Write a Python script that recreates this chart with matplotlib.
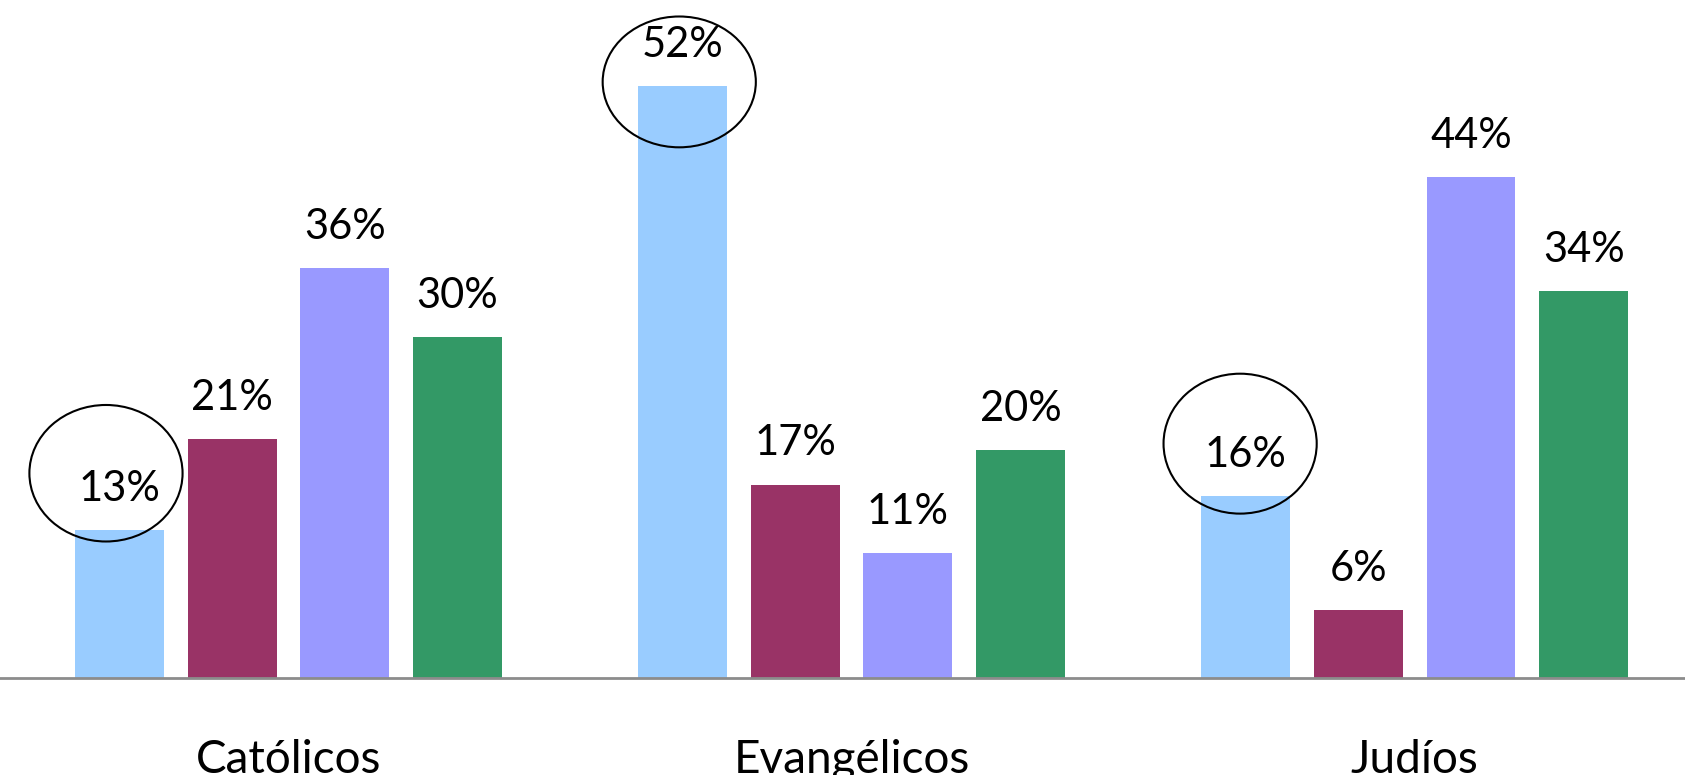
import matplotlib.pyplot as plt
from matplotlib.patches import Ellipse

categories = ["Católicos", "Evangélicos", "Judíos"]
series_colors = ["#99CCFF", "#993366", "#9999FF", "#339966"]
values = [
    [13, 52, 16],   # serie 1
    [21, 17, 6],    # serie 2
    [36, 11, 44],   # serie 3
    [30, 20, 34],   # serie 4
]
# circled values: (category index, series index)
circled = [(0, 0), (1, 0), (2, 0)]

plt.rcParams['font.family'] = ['Lato', 'DejaVu Sans']

fig = plt.figure(figsize=(16.85, 7.75), dpi=100)
ax = fig.add_axes([0, 1 - 678 / 775, 1, 678 / 775])

group_step = 5
bar_w = 0.79
for s, (vals, col) in enumerate(zip(values, series_colors)):
    xs = [g * group_step + s for g in range(len(categories))]
    bars = ax.bar(xs, vals, width=bar_w, color=col, zorder=2)
    for b, v in zip(bars, vals):
        ax.annotate(f"{v}%", (b.get_x() + b.get_width() / 2, v),
                    xytext=(0, 21), textcoords="offset points",
                    ha="center", va="baseline", fontsize=30, color="black", zorder=4)

# ellipses around highlighted labels
ell_offsets = [(-0.12, 5.0, 12.0), (-0.03, 0.4, 11.5), (-0.05, 4.6, 12.3)]
for (g, s), (dx, dy, h) in zip(circled, ell_offsets):
    x = g * group_step + s + dx
    y = values[s][g] + dy
    ax.add_patch(Ellipse((x, y), 1.36, h, fill=False, edgecolor="black",
                         linewidth=1.5, zorder=5, clip_on=False))

ax.set_xlim(-1.061, 13.90)
ax.set_ylim(0, 59.6)
ax.set_xticks([g * group_step + 1.5 for g in range(len(categories))])
ax.set_xticklabels(categories, fontsize=33)
ax.tick_params(axis="x", length=0, pad=44)
ax.set_yticks([])
for side in ["top", "right", "left"]:
    ax.spines[side].set_visible(False)
ax.spines["bottom"].set_color("#8c8c8c")
ax.spines["bottom"].set_linewidth(2)
ax.spines["bottom"].set_zorder(3)
ax.patch.set_alpha(0)

fig.savefig("out.png", dpi=100)
